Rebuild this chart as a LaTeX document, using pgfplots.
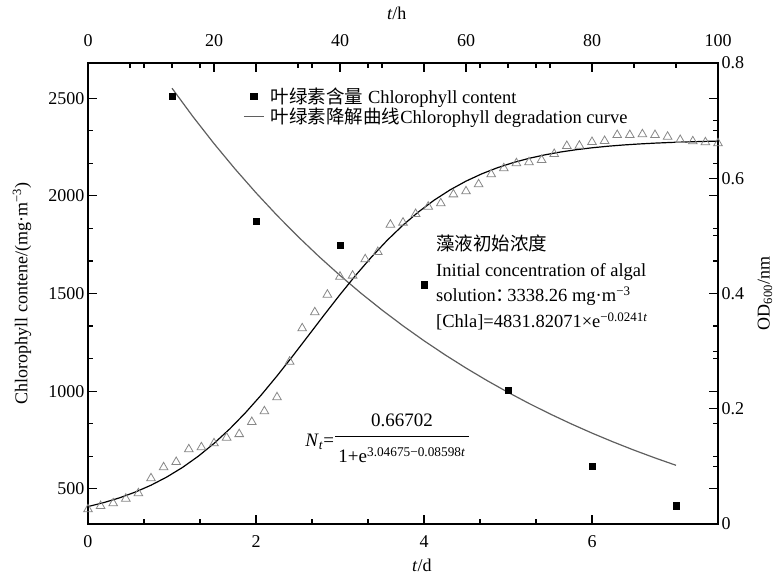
\documentclass[border=0pt]{standalone}
\usepackage{pgfplots}
\pgfplotsset{compat=1.18}
\usepackage{fontspec}
\setmainfont{Liberation Serif}
\newfontfamily\cjk{Noto Sans CJK SC}
\definecolor{curvegray}{RGB}{95,95,95}
\definecolor{trigray}{RGB}{135,135,135}
\setlength{\arrayrulewidth}{1.1pt}
\pgfplotsset{
  mymarklegend/.style={legend image code/.code={\draw[mark repeat=2,mark phase=2,##1] plot coordinates {(0pt,0pt) (10pt,0pt) (20pt,0pt)};}},
  mylinelegend/.style={legend image code/.code={\draw[##1] (0pt,0pt) -- (20pt,0pt);}},
  common/.style={
    width=630pt, height=461pt, scale only axis,
    at={(88pt,55pt)}, anchor=south west,
    tick align=inside,
    major tick length=9pt, minor tick length=5pt,
    axis line style={line width=1.4pt},
    every tick/.style={black, line width=1.2pt},
    tick label style={font=\fontsize{18}{20}\selectfont},
    label style={font=\fontsize{18}{20}\selectfont},
    /pgf/number format/assume math mode=true,
    /pgf/number format/1000 sep={},
    scaled ticks=false,
  }
}
\begin{document}
\begin{tikzpicture}
\begin{axis}[common,
  xmin=0, xmax=7.5, ymin=320, ymax=2680,
  xtick={0,2,4,6}, minor x tick num=2,
  ytick={500,1000,1500,2000,2500}, minor y tick num=2,
  xtick pos=both, xticklabel pos=left,
  ytick pos=both, yticklabel pos=left,
  xticklabel style={yshift=-8pt},
  xlabel={\textit{t}/d},
  xlabel style={at={(axis description cs:0.53,-0.089)}, anchor=center},
  ylabel={Chlorophyll contene/(mg·m\textsuperscript{−3})},
  ylabel style={at={(axis description cs:-0.1048,0.5)}, anchor=center},
  legend style={at={(axis description cs:0.246,0.95)}, anchor=north west, draw=none, fill=none,
    inner sep=0pt, row sep=0pt, font=\fontsize{18.5}{20}\selectfont,
    nodes={inner sep=1.5pt, anchor=west},
    /tikz/every odd column/.append style={column sep=5pt}},
  legend cell align=left,
]
\addplot[only marks, mark=square*, mark size=3.3pt, black, mymarklegend] coordinates {
  (1,2510) (2,1870) (3,1748) (4,1545) (5,1005) (6,615) (7,415)
};
\addlegendentry{{\cjk 叶绿素含量} Chlorophyll content}
\addplot[curvegray, line width=1.2pt, mylinelegend] coordinates {
  (1.00,2551.0) (1.25,2405.1) (1.50,2267.5) (1.75,2137.8) (2.00,2015.5)
  (2.25,1900.2) (2.50,1791.5) (2.75,1689.1) (3.00,1592.5) (3.25,1501.4)
  (3.50,1415.5) (3.75,1334.5) (4.00,1258.2) (4.25,1186.2) (4.50,1118.4)
  (4.75,1054.4) (5.00,994.1) (5.25,937.2) (5.50,883.6) (5.75,833.1)
  (6.00,785.4) (6.25,740.5) (6.50,698.1) (6.75,658.2) (7.00,620.5)
};
\addlegendentry{{\cjk 叶绿素降解曲线}Chlorophyll degradation curve}
\node[anchor=north west, inner sep=0pt, align=left, font=\fontsize{18.5}{25.5}\selectfont]
  at (axis description cs:0.5524,0.627) {{\cjk 藻液初始浓度}\\
  Initial concentration of algal\\
  solution{\cjk ：}\kern-7pt 3338.26 mg·m\textsuperscript{−3}\\{}%
  [Chla]=4831.82071×e\textsuperscript{−0.0241\textit{t}}};
\node[inner sep=0pt, font=\fontsize{19}{22}\selectfont] (frac) at (axis description cs:0.4984,0.182)
  {\begin{tabular}{@{\hspace{3pt}}c@{\hspace{3pt}}}0.66702\\[3pt]\hline\rule{0pt}{25pt}1+e\textsuperscript{3.04675−0.08598\textit{t}}\end{tabular}};
\node[anchor=east, inner sep=1pt, font=\fontsize{19}{22}\selectfont] at ([yshift=-2pt]frac.west) {\textit{N}\textsubscript{\textit{t}}=};
\end{axis}
\begin{axis}[common,
  xmin=0, xmax=100, ymin=0, ymax=0.8,
  xtick={0,20,40,60,80,100}, minor x tick num=2,
  ytick={0,0.2,0.4,0.6,0.8}, minor y tick num=1,
  xtick pos=right, xticklabel pos=right,
  ytick pos=right, yticklabel pos=right,
  xticklabel style={yshift=13pt},
  yticklabel style={/pgf/number format/fixed},
  xlabel={\textit{t}/h},
  xlabel style={at={(axis description cs:0.49,1.108)}, anchor=center},
  ylabel={OD\textsubscript{600}/nm},
  ylabel style={at={(axis description cs:1.0746,0.5)}, anchor=center},
]
\addplot[only marks, mark=triangle, mark size=5pt, draw=trigray, mark options={line width=0.8pt, fill=none}] coordinates {
  (0,0.0255) (2,0.0312) (4,0.0359) (6,0.0439) (8,0.0533) (10,0.0793)
  (12,0.0984) (14,0.1076) (16,0.1296) (18,0.1331) (20,0.1400) (22,0.1498)
  (24,0.1560) (26,0.1770) (28,0.1956) (30,0.2199) (32,0.2817) (34,0.3396)
  (36,0.3674) (38,0.3980) (40,0.4292) (42,0.4310) (44,0.4594) (46,0.4720)
  (48,0.5194) (50,0.5230) (52,0.5380) (54,0.5507) (56,0.5565) (58,0.5720)
  (60,0.5773) (62,0.5895) (64,0.6069) (66,0.6173) (68,0.6260) (70,0.6277)
  (72,0.6317) (74,0.6421) (76,0.6560) (78,0.6565) (80,0.6629) (82,0.6647)
  (84,0.6750) (86,0.6750) (88,0.6763) (90,0.6750) (92,0.6721) (94,0.6664)
  (96,0.6641) (98,0.6624) (100,0.6607)
};
\addplot[black, line width=1.2pt] coordinates {
  (0,0.03025) (2.5,0.03710) (5,0.04539) (7.5,0.05538) (10,0.06731)
  (12.5,0.08148) (15,0.09815) (17.5,0.11754) (20,0.13981) (22.5,0.16502)
  (25,0.19315) (27.5,0.22391) (30,0.25692) (32.5,0.29159) (35,0.32721)
  (37.5,0.36299) (40,0.39808) (42.5,0.43173) (45,0.46334) (47.5,0.49241)
  (50,0.51868) (52.5,0.54198) (55,0.56237) (57.5,0.57997) (60,0.59497)
  (62.5,0.60765) (65,0.61830) (67.5,0.62719) (70,0.63453) (72.5,0.64057)
  (75,0.64552) (77.5,0.64955) (80,0.65285) (82.5,0.65555) (85,0.65775)
  (87.5,0.65950) (90,0.66094) (92.5,0.66212) (95,0.66304) (97.5,0.66383)
  (100,0.66443)
};
\end{axis}
\pgfresetboundingbox
\useasboundingbox (0,0) rectangle (782pt,579pt);
\end{tikzpicture}
\end{document}
